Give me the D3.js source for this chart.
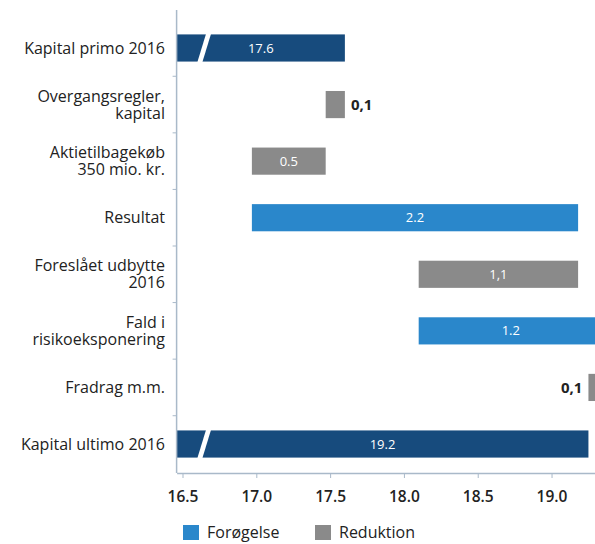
<!DOCTYPE html>
<html><head><meta charset="utf-8">
<script src="https://cdn.jsdelivr.net/npm/d3@7/dist/d3.min.js"></script>
<style>
body{margin:0;background:#fff;}
svg{display:block;}
text{font-family:"Open Sans","Noto Sans",sans-serif;}
</style></head><body>
<svg id="c" width="595" height="544"></svg>
<script>
const categories = [
  ["Kapital primo 2016"],
  ["Overgangsregler,", "kapital"],
  ["Aktietilbagekøb", "350 mio. kr."],
  ["Resultat"],
  ["Foreslået udbytte", "2016"],
  ["Fald i", "risikoeksponering"],
  ["Fradrag m.m."],
  ["Kapital ultimo 2016"]
];
const kinds = ["total","red","red","inc","red","inc","red","total"];
const values = [17.60, -0.13, -0.50, 2.21, -1.08, 1.25, -0.10, 19.25];
const valueLabels = ["17.6","0,1","0.5","2.2","1,1","1.2","0,1","19.2"];
const tickValues = [16.5, 17.0, 17.5, 18.0, 18.5, 19.0];
const legendItems = [["Forøgelse","inc"],["Reduktion","red"]];

const colors = {total:"#174b7d", inc:"#2a87cb", red:"#8a8a8a"};
const svg = d3.select("#c");
const x = d3.scaleLinear().domain([16.46, 19.35]).range([176.6, 603.2]);
const y = d3.scaleBand().domain(d3.range(categories.length)).range([19.7, 472.3]).paddingInner(0.52).paddingOuter(0.26);

let run = 0;
const bars = values.map((v,i) => {
  let x0, x1;
  if (kinds[i] === "total") { x0 = x.domain()[0]; x1 = v; run = v; }
  else { const s = run; run = run + v; x0 = Math.min(s, run); x1 = Math.max(s, run); }
  return {i, x0, x1, kind: kinds[i], label: valueLabels[i]};
});

const g = svg.append("g");
g.selectAll("rect.bar").data(bars).join("rect").attr("class","bar")
  .attr("x", d => x(d.x0)).attr("width", d => x(d.x1) - x(d.x0))
  .attr("y", d => y(d.i)).attr("height", y.bandwidth())
  .attr("fill", d => colors[d.kind]);

bars.filter(d => d.kind === "total").forEach(d => {
  const t = y(d.i) - 1, b = y(d.i) + y.bandwidth() + 1;
  const xt = x(16.66), xb = x(16.60), w = 5;
  g.append("polygon").attr("fill","#fff")
    .attr("points", `${xt},${t} ${xt+w},${t} ${xb+w},${b} ${xb},${b}`);
});

bars.forEach(d => {
  const wpx = x(d.x1) - x(d.x0);
  const cy = y(d.i) + y.bandwidth()/2;
  if (wpx > 40) {
    g.append("text").attr("x", (x(d.x0)+Math.min(x(d.x1),603))/2).attr("y", cy)
      .attr("dy","0.35em").attr("text-anchor","middle").attr("fill","#fff")
      .attr("font-size", 13).attr("font-weight", 400).text(d.label);
  } else if (d.i === categories.length - 2) {
    g.append("text").attr("x", x(d.x0) - 6).attr("y", cy).attr("dy","0.35em")
      .attr("text-anchor","end").attr("fill","#222").attr("font-size", 15).attr("font-weight", 700).text(d.label);
  } else {
    g.append("text").attr("x", x(d.x1) + 6).attr("y", cy).attr("dy","0.35em")
      .attr("text-anchor","start").attr("fill","#222").attr("font-size", 15).attr("font-weight", 700).text(d.label);
  }
});

categories.forEach((lines, i) => {
  const cy = y(i) + y.bandwidth()/2;
  const lh = 17;
  const t = svg.append("text").attr("text-anchor","end").attr("fill","#222").attr("font-size", 16);
  lines.forEach((ln, k) => {
    t.append("tspan").attr("x", 165).attr("y", cy + (k - (lines.length-1)/2)*lh).attr("dy","0.35em").text(ln);
  });
});

const axisColor = "#a9b9c9";
svg.append("line").attr("x1", x.range()[0]).attr("x2", x.range()[0]).attr("y1", 10).attr("y2", 473).attr("stroke", axisColor).attr("stroke-width", 1.5);
d3.range(1, categories.length).forEach(i => {
  const yy = y(i) - y.step()*y.paddingInner()/2;
  svg.append("line").attr("x1", x.range()[0]-4).attr("x2", x.range()[0]).attr("y1", yy).attr("y2", yy).attr("stroke", axisColor);
});

const xa = svg.append("g").attr("transform","translate(0,473)")
  .call(d3.axisBottom(x).tickValues(tickValues).tickFormat(d3.format(".1f")).tickSize(5).tickSizeOuter(0));
xa.select(".domain").attr("stroke", axisColor).attr("stroke-width", 1.5);
xa.selectAll(".tick line").attr("stroke", axisColor);
xa.selectAll(".tick text").attr("fill","#222").attr("font-size", 15.5).attr("font-weight", 600)
  .attr("font-family", '"Open Sans","Noto Sans",sans-serif').attr("y", 18).attr("dy","0.71em");

let lx = 183;
legendItems.forEach(([name, k]) => {
  svg.append("rect").attr("x", lx).attr("y", 525).attr("width", 16).attr("height", 15).attr("fill", colors[k]);
  svg.append("text").attr("x", lx + 24).attr("y", 532).attr("dy","0.35em").attr("fill","#222").attr("font-size", 16).text(name);
  lx += 132;
});
</script>
</body></html>
